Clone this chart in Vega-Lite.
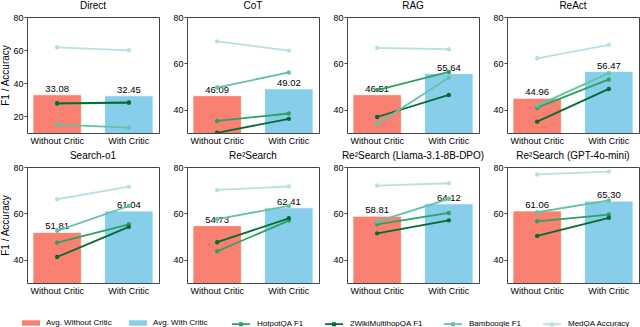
{
"$schema": "https://vega.github.io/schema/vega-lite/v6.json",
"padding": {"left": 0, "right": 0, "top": 0, "bottom": 0},
"datasets": {
"avg": [
{"method":"Direct","condition":"Without Critic","series":"Avg. Without Critic","value":33.08},
{"method":"Direct","condition":"With Critic","series":"Avg. With Critic","value":32.45},
{"method":"CoT","condition":"Without Critic","series":"Avg. Without Critic","value":46.09},
{"method":"CoT","condition":"With Critic","series":"Avg. With Critic","value":49.02},
{"method":"RAG","condition":"Without Critic","series":"Avg. Without Critic","value":46.51},
{"method":"RAG","condition":"With Critic","series":"Avg. With Critic","value":55.64},
{"method":"ReAct","condition":"Without Critic","series":"Avg. Without Critic","value":44.96},
{"method":"ReAct","condition":"With Critic","series":"Avg. With Critic","value":56.47},
{"method":"SO1","condition":"Without Critic","series":"Avg. Without Critic","value":51.81},
{"method":"SO1","condition":"With Critic","series":"Avg. With Critic","value":61.04},
{"method":"R2","condition":"Without Critic","series":"Avg. Without Critic","value":54.73},
{"method":"R2","condition":"With Critic","series":"Avg. With Critic","value":62.41},
{"method":"R2L","condition":"Without Critic","series":"Avg. Without Critic","value":58.81},
{"method":"R2L","condition":"With Critic","series":"Avg. With Critic","value":64.12},
{"method":"R2G","condition":"Without Critic","series":"Avg. Without Critic","value":61.06},
{"method":"R2G","condition":"With Critic","series":"Avg. With Critic","value":65.30}
],
"ds": [
{"method":"Direct","condition":"Without Critic","series":"HotpotQA F1","value":27.7},
{"method":"Direct","condition":"With Critic","series":"HotpotQA F1","value":28.2},
{"method":"Direct","condition":"Without Critic","series":"2WikiMultihopQA F1","value":27.9},
{"method":"Direct","condition":"With Critic","series":"2WikiMultihopQA F1","value":28.4},
{"method":"Direct","condition":"Without Critic","series":"Bamboogle F1","value":15.0},
{"method":"Direct","condition":"With Critic","series":"Bamboogle F1","value":13.3},
{"method":"Direct","condition":"Without Critic","series":"MedQA Accuracy","value":61.7},
{"method":"Direct","condition":"With Critic","series":"MedQA Accuracy","value":59.9},
{"method":"CoT","condition":"Without Critic","series":"HotpotQA F1","value":35.2},
{"method":"CoT","condition":"With Critic","series":"HotpotQA F1","value":38.4},
{"method":"CoT","condition":"Without Critic","series":"2WikiMultihopQA F1","value":30.1},
{"method":"CoT","condition":"With Critic","series":"2WikiMultihopQA F1","value":36.1},
{"method":"CoT","condition":"Without Critic","series":"Bamboogle F1","value":49.6},
{"method":"CoT","condition":"With Critic","series":"Bamboogle F1","value":56.1},
{"method":"CoT","condition":"Without Critic","series":"MedQA Accuracy","value":69.5},
{"method":"CoT","condition":"With Critic","series":"MedQA Accuracy","value":65.5},
{"method":"RAG","condition":"Without Critic","series":"HotpotQA F1","value":48.5},
{"method":"RAG","condition":"With Critic","series":"HotpotQA F1","value":56.3},
{"method":"RAG","condition":"Without Critic","series":"2WikiMultihopQA F1","value":36.9},
{"method":"RAG","condition":"With Critic","series":"2WikiMultihopQA F1","value":46.4},
{"method":"RAG","condition":"Without Critic","series":"Bamboogle F1","value":33.9},
{"method":"RAG","condition":"With Critic","series":"Bamboogle F1","value":53.8},
{"method":"RAG","condition":"Without Critic","series":"MedQA Accuracy","value":66.7},
{"method":"RAG","condition":"With Critic","series":"MedQA Accuracy","value":66.1},
{"method":"ReAct","condition":"Without Critic","series":"HotpotQA F1","value":40.9},
{"method":"ReAct","condition":"With Critic","series":"HotpotQA F1","value":53.1},
{"method":"ReAct","condition":"Without Critic","series":"2WikiMultihopQA F1","value":34.9},
{"method":"ReAct","condition":"With Critic","series":"2WikiMultihopQA F1","value":49.0},
{"method":"ReAct","condition":"Without Critic","series":"Bamboogle F1","value":41.8},
{"method":"ReAct","condition":"With Critic","series":"Bamboogle F1","value":55.8},
{"method":"ReAct","condition":"Without Critic","series":"MedQA Accuracy","value":62.2},
{"method":"ReAct","condition":"With Critic","series":"MedQA Accuracy","value":68.0},
{"method":"SO1","condition":"Without Critic","series":"HotpotQA F1","value":47.4},
{"method":"SO1","condition":"With Critic","series":"HotpotQA F1","value":55.3},
{"method":"SO1","condition":"Without Critic","series":"2WikiMultihopQA F1","value":41.2},
{"method":"SO1","condition":"With Critic","series":"2WikiMultihopQA F1","value":54.2},
{"method":"SO1","condition":"Without Critic","series":"Bamboogle F1","value":52.5},
{"method":"SO1","condition":"With Critic","series":"Bamboogle F1","value":63.2},
{"method":"SO1","condition":"Without Critic","series":"MedQA Accuracy","value":66.1},
{"method":"SO1","condition":"With Critic","series":"MedQA Accuracy","value":71.5},
{"method":"R2","condition":"Without Critic","series":"HotpotQA F1","value":43.7},
{"method":"R2","condition":"With Critic","series":"HotpotQA F1","value":56.9},
{"method":"R2","condition":"Without Critic","series":"2WikiMultihopQA F1","value":47.6},
{"method":"R2","condition":"With Critic","series":"2WikiMultihopQA F1","value":57.9},
{"method":"R2","condition":"Without Critic","series":"Bamboogle F1","value":57.5},
{"method":"R2","condition":"With Critic","series":"Bamboogle F1","value":63.2},
{"method":"R2","condition":"Without Critic","series":"MedQA Accuracy","value":70.1},
{"method":"R2","condition":"With Critic","series":"MedQA Accuracy","value":71.6},
{"method":"R2L","condition":"Without Critic","series":"HotpotQA F1","value":55.3},
{"method":"R2L","condition":"With Critic","series":"HotpotQA F1","value":60.2},
{"method":"R2L","condition":"Without Critic","series":"2WikiMultihopQA F1","value":51.4},
{"method":"R2L","condition":"With Critic","series":"2WikiMultihopQA F1","value":57.0},
{"method":"R2L","condition":"Without Critic","series":"Bamboogle F1","value":56.5},
{"method":"R2L","condition":"With Critic","series":"Bamboogle F1","value":66.3},
{"method":"R2L","condition":"Without Critic","series":"MedQA Accuracy","value":72.0},
{"method":"R2L","condition":"With Critic","series":"MedQA Accuracy","value":73.0},
{"method":"R2G","condition":"Without Critic","series":"HotpotQA F1","value":56.6},
{"method":"R2G","condition":"With Critic","series":"HotpotQA F1","value":59.5},
{"method":"R2G","condition":"Without Critic","series":"2WikiMultihopQA F1","value":50.3},
{"method":"R2G","condition":"With Critic","series":"2WikiMultihopQA F1","value":58.1},
{"method":"R2G","condition":"Without Critic","series":"Bamboogle F1","value":60.5},
{"method":"R2G","condition":"With Critic","series":"Bamboogle F1","value":65.6},
{"method":"R2G","condition":"Without Critic","series":"MedQA Accuracy","value":76.8},
{"method":"R2G","condition":"With Critic","series":"MedQA Accuracy","value":78.0}
]
},
"columns": 4,
"spacing": {"row": 34, "column": 28},
"bounds": "flush",
"concat": [
{"title": "Direct", "width": 132, "height": 116,
 "encoding": {
  "x": {"field": "condition", "type": "nominal", "sort": ["Without Critic", "With Critic"], "scale": {"paddingInner": 0.324, "paddingOuter": 0.083}, "axis": {"title": null, "labelAngle": 0, "ticks": false, "tickSize": 0, "labelPadding": 3}},
  "y": {"field": "value", "type": "quantitative", "scale": {"domain": [10, 80], "nice": false, "zero": false}, "axis": {"title": "F1 / Accuracy", "values": [20, 40, 60, 80]}}
 },
 "layer": [
  {"data": {"name": "avg"}, "transform": [{"filter": "datum.method === 'Direct'"}], "mark": {"type": "bar", "stroke": "white", "strokeWidth": 0.8, "clip": true}, "encoding": {"fill": {"field": "series", "type": "nominal", "scale": {"domain": ["Avg. Without Critic", "Avg. With Critic"], "range": ["#FA8072", "#87CEEB"]}, "legend": {"orient": "none", "legendX": -5, "legendY": 297, "direction": "horizontal", "symbolType": "M-1,-0.3H1V0.3H-1Z", "symbolStrokeWidth": 0, "symbolStrokeColor": "transparent"}}}},
  {"data": {"name": "avg"}, "transform": [{"filter": "datum.method === 'Direct'"}], "mark": {"type": "text", "baseline": "bottom", "dy": -1, "fontSize": 9.5}, "encoding": {"text": {"field": "value", "type": "quantitative", "format": ".2f"}}},
  {"data": {"name": "ds"}, "transform": [{"filter": "datum.method === 'Direct'"}], "mark": {"type": "line", "strokeWidth": 1.8, "clip": true}, "encoding": {"stroke": {"field": "series", "type": "nominal", "scale": {"domain": ["HotpotQA F1", "2WikiMultihopQA F1", "Bamboogle F1", "MedQA Accuracy"], "range": ["#2ca25f", "#006d2c", "#66c2a4", "#b2e2e2"]}, "legend": {"orient": "none", "legendX": 204, "legendY": 297, "direction": "horizontal", "symbolType": "M-1,0H1M-0.12,-0.12H0.12V0.12H-0.12Z", "symbolStrokeWidth": 1.8}}}},
  {"data": {"name": "ds"}, "transform": [{"filter": "datum.method === 'Direct'"}], "mark": {"type": "point", "filled": false, "size": 5, "strokeWidth": 2.2, "opacity": 1, "clip": true}, "encoding": {"stroke": {"field": "series", "type": "nominal"}}}
 ]},
{"title": "CoT", "width": 132, "height": 116,
 "encoding": {
  "x": {"field": "condition", "type": "nominal", "sort": ["Without Critic", "With Critic"], "scale": {"paddingInner": 0.324, "paddingOuter": 0.083}, "axis": {"title": null, "labelAngle": 0, "ticks": false, "tickSize": 0, "labelPadding": 3}},
  "y": {"field": "value", "type": "quantitative", "scale": {"domain": [30, 80], "nice": false, "zero": false}, "axis": {"title": null, "values": [40, 60, 80]}}
 },
 "layer": [
  {"data": {"name": "avg"}, "transform": [{"filter": "datum.method === 'CoT'"}], "mark": {"type": "bar", "stroke": "white", "strokeWidth": 0.8, "clip": true}, "encoding": {"fill": {"field": "series", "type": "nominal"}}},
  {"data": {"name": "avg"}, "transform": [{"filter": "datum.method === 'CoT'"}], "mark": {"type": "text", "baseline": "bottom", "dy": -1, "fontSize": 9.5}, "encoding": {"text": {"field": "value", "type": "quantitative", "format": ".2f"}}},
  {"data": {"name": "ds"}, "transform": [{"filter": "datum.method === 'CoT'"}], "mark": {"type": "line", "strokeWidth": 1.8, "clip": true}, "encoding": {"stroke": {"field": "series", "type": "nominal"}}},
  {"data": {"name": "ds"}, "transform": [{"filter": "datum.method === 'CoT'"}], "mark": {"type": "point", "filled": false, "size": 5, "strokeWidth": 2.2, "opacity": 1, "clip": true}, "encoding": {"stroke": {"field": "series", "type": "nominal"}}}
 ]},
{"title": "RAG", "width": 132, "height": 116,
 "encoding": {
  "x": {"field": "condition", "type": "nominal", "sort": ["Without Critic", "With Critic"], "scale": {"paddingInner": 0.324, "paddingOuter": 0.083}, "axis": {"title": null, "labelAngle": 0, "ticks": false, "tickSize": 0, "labelPadding": 3}},
  "y": {"field": "value", "type": "quantitative", "scale": {"domain": [30, 80], "nice": false, "zero": false}, "axis": {"title": null, "values": [40, 60, 80]}}
 },
 "layer": [
  {"data": {"name": "avg"}, "transform": [{"filter": "datum.method === 'RAG'"}], "mark": {"type": "bar", "stroke": "white", "strokeWidth": 0.8, "clip": true}, "encoding": {"fill": {"field": "series", "type": "nominal"}}},
  {"data": {"name": "avg"}, "transform": [{"filter": "datum.method === 'RAG'"}], "mark": {"type": "text", "baseline": "bottom", "dy": -1, "fontSize": 9.5}, "encoding": {"text": {"field": "value", "type": "quantitative", "format": ".2f"}}},
  {"data": {"name": "ds"}, "transform": [{"filter": "datum.method === 'RAG'"}], "mark": {"type": "line", "strokeWidth": 1.8, "clip": true}, "encoding": {"stroke": {"field": "series", "type": "nominal"}}},
  {"data": {"name": "ds"}, "transform": [{"filter": "datum.method === 'RAG'"}], "mark": {"type": "point", "filled": false, "size": 5, "strokeWidth": 2.2, "opacity": 1, "clip": true}, "encoding": {"stroke": {"field": "series", "type": "nominal"}}}
 ]},
{"title": "ReAct", "width": 132, "height": 116,
 "encoding": {
  "x": {"field": "condition", "type": "nominal", "sort": ["Without Critic", "With Critic"], "scale": {"paddingInner": 0.324, "paddingOuter": 0.083}, "axis": {"title": null, "labelAngle": 0, "ticks": false, "tickSize": 0, "labelPadding": 3}},
  "y": {"field": "value", "type": "quantitative", "scale": {"domain": [30, 80], "nice": false, "zero": false}, "axis": {"title": null, "values": [40, 60, 80]}}
 },
 "layer": [
  {"data": {"name": "avg"}, "transform": [{"filter": "datum.method === 'ReAct'"}], "mark": {"type": "bar", "stroke": "white", "strokeWidth": 0.8, "clip": true}, "encoding": {"fill": {"field": "series", "type": "nominal"}}},
  {"data": {"name": "avg"}, "transform": [{"filter": "datum.method === 'ReAct'"}], "mark": {"type": "text", "baseline": "bottom", "dy": -1, "fontSize": 9.5}, "encoding": {"text": {"field": "value", "type": "quantitative", "format": ".2f"}}},
  {"data": {"name": "ds"}, "transform": [{"filter": "datum.method === 'ReAct'"}], "mark": {"type": "line", "strokeWidth": 1.8, "clip": true}, "encoding": {"stroke": {"field": "series", "type": "nominal"}}},
  {"data": {"name": "ds"}, "transform": [{"filter": "datum.method === 'ReAct'"}], "mark": {"type": "point", "filled": false, "size": 5, "strokeWidth": 2.2, "opacity": 1, "clip": true}, "encoding": {"stroke": {"field": "series", "type": "nominal"}}}
 ]},
{"title": "Search-o1", "width": 132, "height": 116,
 "encoding": {
  "x": {"field": "condition", "type": "nominal", "sort": ["Without Critic", "With Critic"], "scale": {"paddingInner": 0.324, "paddingOuter": 0.083}, "axis": {"title": null, "labelAngle": 0, "ticks": false, "tickSize": 0, "labelPadding": 3}},
  "y": {"field": "value", "type": "quantitative", "scale": {"domain": [30, 80], "nice": false, "zero": false}, "axis": {"title": "F1 / Accuracy", "values": [40, 60, 80]}}
 },
 "layer": [
  {"data": {"name": "avg"}, "transform": [{"filter": "datum.method === 'SO1'"}], "mark": {"type": "bar", "stroke": "white", "strokeWidth": 0.8, "clip": true}, "encoding": {"fill": {"field": "series", "type": "nominal"}}},
  {"data": {"name": "avg"}, "transform": [{"filter": "datum.method === 'SO1'"}], "mark": {"type": "text", "baseline": "bottom", "dy": -1, "fontSize": 9.5}, "encoding": {"text": {"field": "value", "type": "quantitative", "format": ".2f"}}},
  {"data": {"name": "ds"}, "transform": [{"filter": "datum.method === 'SO1'"}], "mark": {"type": "line", "strokeWidth": 1.8, "clip": true}, "encoding": {"stroke": {"field": "series", "type": "nominal"}}},
  {"data": {"name": "ds"}, "transform": [{"filter": "datum.method === 'SO1'"}], "mark": {"type": "point", "filled": false, "size": 5, "strokeWidth": 2.2, "opacity": 1, "clip": true}, "encoding": {"stroke": {"field": "series", "type": "nominal"}}}
 ]},
{"title": "Re²Search", "width": 132, "height": 116,
 "encoding": {
  "x": {"field": "condition", "type": "nominal", "sort": ["Without Critic", "With Critic"], "scale": {"paddingInner": 0.324, "paddingOuter": 0.083}, "axis": {"title": null, "labelAngle": 0, "ticks": false, "tickSize": 0, "labelPadding": 3}},
  "y": {"field": "value", "type": "quantitative", "scale": {"domain": [30, 80], "nice": false, "zero": false}, "axis": {"title": null, "values": [40, 60, 80]}}
 },
 "layer": [
  {"data": {"name": "avg"}, "transform": [{"filter": "datum.method === 'R2'"}], "mark": {"type": "bar", "stroke": "white", "strokeWidth": 0.8, "clip": true}, "encoding": {"fill": {"field": "series", "type": "nominal"}}},
  {"data": {"name": "avg"}, "transform": [{"filter": "datum.method === 'R2'"}], "mark": {"type": "text", "baseline": "bottom", "dy": -1, "fontSize": 9.5}, "encoding": {"text": {"field": "value", "type": "quantitative", "format": ".2f"}}},
  {"data": {"name": "ds"}, "transform": [{"filter": "datum.method === 'R2'"}], "mark": {"type": "line", "strokeWidth": 1.8, "clip": true}, "encoding": {"stroke": {"field": "series", "type": "nominal"}}},
  {"data": {"name": "ds"}, "transform": [{"filter": "datum.method === 'R2'"}], "mark": {"type": "point", "filled": false, "size": 5, "strokeWidth": 2.2, "opacity": 1, "clip": true}, "encoding": {"stroke": {"field": "series", "type": "nominal"}}}
 ]},
{"title": "Re²Search (Llama-3.1-8B-DPO)", "width": 132, "height": 116,
 "encoding": {
  "x": {"field": "condition", "type": "nominal", "sort": ["Without Critic", "With Critic"], "scale": {"paddingInner": 0.324, "paddingOuter": 0.083}, "axis": {"title": null, "labelAngle": 0, "ticks": false, "tickSize": 0, "labelPadding": 3}},
  "y": {"field": "value", "type": "quantitative", "scale": {"domain": [30, 80], "nice": false, "zero": false}, "axis": {"title": null, "values": [40, 60, 80]}}
 },
 "layer": [
  {"data": {"name": "avg"}, "transform": [{"filter": "datum.method === 'R2L'"}], "mark": {"type": "bar", "stroke": "white", "strokeWidth": 0.8, "clip": true}, "encoding": {"fill": {"field": "series", "type": "nominal"}}},
  {"data": {"name": "avg"}, "transform": [{"filter": "datum.method === 'R2L'"}], "mark": {"type": "text", "baseline": "bottom", "dy": -1, "fontSize": 9.5}, "encoding": {"text": {"field": "value", "type": "quantitative", "format": ".2f"}}},
  {"data": {"name": "ds"}, "transform": [{"filter": "datum.method === 'R2L'"}], "mark": {"type": "line", "strokeWidth": 1.8, "clip": true}, "encoding": {"stroke": {"field": "series", "type": "nominal"}}},
  {"data": {"name": "ds"}, "transform": [{"filter": "datum.method === 'R2L'"}], "mark": {"type": "point", "filled": false, "size": 5, "strokeWidth": 2.2, "opacity": 1, "clip": true}, "encoding": {"stroke": {"field": "series", "type": "nominal"}}}
 ]},
{"title": "Re²Search (GPT-4o-mini)", "width": 132, "height": 116,
 "encoding": {
  "x": {"field": "condition", "type": "nominal", "sort": ["Without Critic", "With Critic"], "scale": {"paddingInner": 0.324, "paddingOuter": 0.083}, "axis": {"title": null, "labelAngle": 0, "ticks": false, "tickSize": 0, "labelPadding": 3}},
  "y": {"field": "value", "type": "quantitative", "scale": {"domain": [30, 80], "nice": false, "zero": false}, "axis": {"title": null, "values": [40, 60, 80]}}
 },
 "layer": [
  {"data": {"name": "avg"}, "transform": [{"filter": "datum.method === 'R2G'"}], "mark": {"type": "bar", "stroke": "white", "strokeWidth": 0.8, "clip": true}, "encoding": {"fill": {"field": "series", "type": "nominal"}}},
  {"data": {"name": "avg"}, "transform": [{"filter": "datum.method === 'R2G'"}], "mark": {"type": "text", "baseline": "bottom", "dy": -1, "fontSize": 9.5}, "encoding": {"text": {"field": "value", "type": "quantitative", "format": ".2f"}}},
  {"data": {"name": "ds"}, "transform": [{"filter": "datum.method === 'R2G'"}], "mark": {"type": "line", "strokeWidth": 1.8, "clip": true}, "encoding": {"stroke": {"field": "series", "type": "nominal"}}},
  {"data": {"name": "ds"}, "transform": [{"filter": "datum.method === 'R2G'"}], "mark": {"type": "point", "filled": false, "size": 5, "strokeWidth": 2.2, "opacity": 1, "clip": true}, "encoding": {"stroke": {"field": "series", "type": "nominal"}}}
 ]}
],
"config": {
 "font": "Liberation Sans",
 "view": {"stroke": "#444", "strokeWidth": 1},
 "axis": {"labelFontSize": 9, "titleFontSize": 10, "titleFontWeight": "normal", "labelColor": "#000", "titleColor": "#000", "tickColor": "#444", "tickSize": 3, "labelPadding": 1, "grid": false, "domain": false, "titlePadding": 2},
 "title": {"fontSize": 10, "fontWeight": "normal", "offset": 2, "color": "#000"},
 "legend": {"title": null, "padding": 0, "labelFontSize": 8, "labelColor": "#000", "labelOffset": 6, "columnPadding": 17, "symbolSize": 324}
}
}
